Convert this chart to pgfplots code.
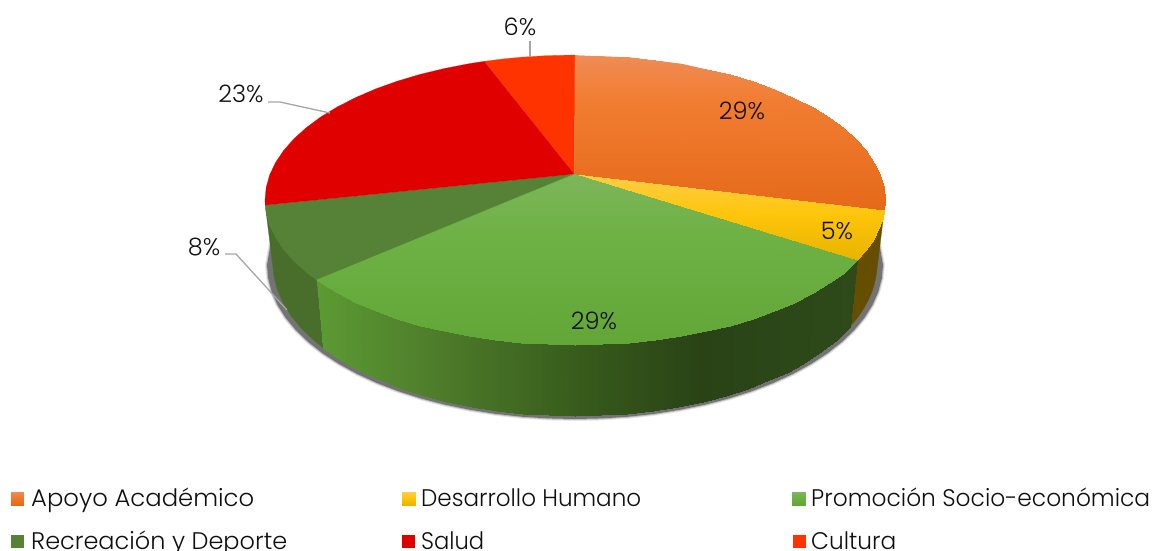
\documentclass[border=0pt]{standalone}
\usepackage{fontspec}
\setmainfont{Poppins Light}
\usepackage{pgfplots}
\pgfplotsset{compat=1.18}
\definecolor{txt}{RGB}{15,15,15}
\definecolor{lead}{RGB}{166,166,166}
\definecolor{dg}{RGB}{85,130,54}
\definecolor{red1}{RGB}{225,0,0}
\definecolor{cult}{RGB}{255,51,0}
\definecolor{dgs}{RGB}{73,110,44}
\definecolor{ys}{RGB}{102,78,0}
\definecolor{om}{RGB}{238,120,45}
\definecolor{ym}{RGB}{253,197,20}
\definecolor{gm}{RGB}{108,175,66}
\pgfplotsset{
 colormap={orr}{rgb255(55)=(240,140,85); rgb255(100)=(241,125,50); rgb255(210)=(229,105,25)},
 colormap={yel}{rgb255(174)=(255,205,70); rgb255(215)=(253,197,10); rgb255(260)=(232,180,0)},
 colormap={grn}{rgb255(174)=(125,182,92); rgb255(235)=(110,177,68); rgb255(345)=(98,166,56)},
 colormap={gside}{rgb255(316)=(92,155,51); rgb255(420)=(80,128,44); rgb255(575)=(56,92,28); rgb255(700)=(41,67,22); rgb255(857)=(46,74,26)},
}
\tikzset{
 lab/.style={font=\fontsize{24}{24}\selectfont, text=txt, inner sep=0pt},
 leg/.style={font=\fontsize{24}{24}\selectfont, text=txt, inner sep=0pt, anchor=base west},
}
\begin{document}
\begin{tikzpicture}
\useasboundingbox (0,0) rectangle (1154pt,550pt);
\clip (0,0) rectangle (1154pt,550pt);
\begin{axis}[at={(0,0)},anchor=south west,scale only axis,width=1154pt,height=550pt,
 xmin=0,xmax=1154,ymin=0,ymax=550,y dir=reverse,hide axis,clip=false,point meta rel=per plot]
% shadow
\addplot[draw=gray,line width=4pt,opacity=.18,fill=none] coordinates {(864.4,212.3)(878.3,238.3)(883,265)(881.8,278.4)(878.3,291.7)(872.5,304.9)(864.4,317.7)(854.1,330.1)(841.7,342)(827.3,353.3)(810.9,364)(792.8,373.9)(773,383)(751.7,391.2)(729,398.4)(705.2,404.6)(680.3,409.7)(654.7,413.8)(628.5,416.7)(601.9,418.4)(575,419)(548.1,418.4)(521.5,416.7)(495.3,413.8)(469.7,409.7)(444.8,404.6)(421,398.4)(398.3,391.2)(377,383)(357.2,373.9)(339.1,364)(322.7,353.3)(308.3,342)(295.9,330.1)(285.6,317.7)(277.5,304.9)(271.7,291.7)(268.2,278.4)(267,265)(271.7,238.3)(285.6,212.3)};
\addplot[draw=gray,line width=2pt,opacity=.4,fill=none] coordinates {(864.4,212.3)(878.3,238.3)(883,265)(881.8,278.4)(878.3,291.7)(872.5,304.9)(864.4,317.7)(854.1,330.1)(841.7,342)(827.3,353.3)(810.9,364)(792.8,373.9)(773,383)(751.7,391.2)(729,398.4)(705.2,404.6)(680.3,409.7)(654.7,413.8)(628.5,416.7)(601.9,418.4)(575,419)(548.1,418.4)(521.5,416.7)(495.3,413.8)(469.7,409.7)(444.8,404.6)(421,398.4)(398.3,391.2)(377,383)(357.2,373.9)(339.1,364)(322.7,353.3)(308.3,342)(295.9,330.1)(285.6,317.7)(277.5,304.9)(271.7,291.7)(268.2,278.4)(267,265)(271.7,238.3)(285.6,212.3)};
\addplot[draw=none,fill=black!55] coordinates {(864.4,212.3)(878.3,238.3)(883,265)(881.8,278.4)(878.3,291.7)(872.5,304.9)(864.4,317.7)(854.1,330.1)(841.7,342)(827.3,353.3)(810.9,364)(792.8,373.9)(773,383)(751.7,391.2)(729,398.4)(705.2,404.6)(680.3,409.7)(654.7,413.8)(628.5,416.7)(601.9,418.4)(575,419)(548.1,418.4)(521.5,416.7)(495.3,413.8)(469.7,409.7)(444.8,404.6)(421,398.4)(398.3,391.2)(377,383)(357.2,373.9)(339.1,364)(322.7,353.3)(308.3,342)(295.9,330.1)(285.6,317.7)(277.5,304.9)(271.7,291.7)(268.2,278.4)(267,265)(271.7,238.3)(285.6,212.3)} -- cycle;
% sides
\addplot[draw=ys,line width=.2pt,fill=ys] coordinates {(884.3,210.1)(882.7,217.7)(880.3,225.2)(876.4,233.8)(871.5,242.4)(865.4,250.8)(857.1,260.1)(849.8,327)(857.9,317.2)(863.8,308.4)(868.7,299.5)(872.4,290.4)(874.7,282.5)(876.3,274.6)} -- cycle;
\addplot[draw=dgs,line width=.2pt,fill=dgs] coordinates {(316.5,280)(306.5,272.5)(294,261.3)(283.7,249.6)(275.6,237.5)(269.7,225.2)(266.2,212.6)(265.2,205.1)(273.2,269.3)(274.1,277.3)(277.6,290.4)(283.3,303.3)(291.2,316)(301.3,328.2)(313.5,340)(323.2,347.9)} -- cycle;
\addplot[patch,patch type=rectangle,shader=interp,colormap name=gside,point meta=x] coordinates {
(857.1,260.1)(851.2,265.8)(844.1,333)(849.8,327)
(851.2,265.8)(843.5,272.5)(836.5,340)(844.1,333)
(843.5,272.5)(829,283.2)(822.4,351.2)(836.5,340)
(829,283.2)(812.5,293.2)(806.3,361.7)(822.4,351.2)
(812.5,293.2)(794.2,302.5)(788.5,371.5)(806.3,361.7)
(794.2,302.5)(774.3,311.1)(769.1,380.4)(788.5,371.5)
(774.3,311.1)(752.8,318.8)(748.2,388.5)(769.1,380.4)
(752.8,318.8)(730,325.6)(726,395.6)(748.2,388.5)
(730,325.6)(706,331.4)(702.6,401.8)(726,395.6)
(706,331.4)(681,336.3)(678.3,406.8)(702.6,401.8)
(681,336.3)(655.2,340.1)(653.2,410.8)(678.3,406.8)
(655.2,340.1)(628.8,342.8)(627.4,413.7)(653.2,410.8)
(628.8,342.8)(602,344.4)(601.3,415.4)(627.4,413.7)
(602,344.4)(575,345)(575,416)(601.3,415.4)
(575,345)(548,344.4)(548.7,415.4)(575,416)
(548,344.4)(521.2,342.8)(522.6,413.7)(548.7,415.4)
(521.2,342.8)(494.8,340.1)(496.8,410.8)(522.6,413.7)
(494.8,340.1)(469,336.3)(471.7,406.8)(496.8,410.8)
(469,336.3)(444,331.4)(447.4,401.8)(471.7,406.8)
(444,331.4)(420,325.6)(424,395.6)(447.4,401.8)
(420,325.6)(397.2,318.8)(401.8,388.5)(424,395.6)
(397.2,318.8)(375.7,311.1)(380.9,380.4)(401.8,388.5)
(375.7,311.1)(355.8,302.5)(361.5,371.5)(380.9,380.4)
(355.8,302.5)(337.5,293.2)(343.7,361.7)(361.5,371.5)
(337.5,293.2)(327.4,287.3)(333.8,355.5)(343.7,361.7)
(327.4,287.3)(316.5,280)(323.2,347.9)(333.8,355.5)
};
% top: flat slices
\addplot[draw=dg,line width=.2pt,fill=dg] coordinates {(574.5,174)(316.5,280)(306.5,272.5)(294,261.3)(283.7,249.6)(275.6,237.5)(269.7,225.2)(266.2,212.6)(265.2,205.1)} -- cycle;
\addplot[draw=red1,line width=.2pt,fill=red1] coordinates {(574.5,174)(265.2,205.1)(265,200)(266.2,187.4)(269.7,174.8)(275.6,162.5)(283.7,150.4)(294,138.7)(306.5,127.5)(321,116.8)(337.5,106.8)(355.8,97.5)(375.7,88.9)(397.2,81.2)(420,74.4)(444,68.6)(469,63.7)(484.4,61.3)} -- cycle;
\addplot[draw=cult,line width=.2pt,fill=cult] coordinates {(574.5,174)(484.4,61.3)(502.6,59)(521.2,57.2)(548,55.6)(575,55)} -- cycle;
% underlays of the shaded slices
\addplot[draw=om,line width=.4pt,fill=om] coordinates {(574.5,174)(575,55.6)(628.8,57.6)(681,64)(730,75)(774.3,89.5)(812.5,107.5)(843.5,128)(866.3,151)(880.3,175)(884.5,200)(884,209.8)} -- cycle;
\addplot[draw=ym,line width=.4pt,fill=ym] coordinates {(574.5,174)(884,210.3)(880,225)(871.2,242.2)(857,259.8)} -- cycle;
\addplot[draw=gm,line width=.4pt,fill=gm] coordinates {(574.5,174)(857,260.2)(812.5,292.8)(730,325.2)(628.8,342.4)(575,344.6)(521.2,342.4)(420,325.2)(337.5,292.8)(316.8,280)} -- cycle;
% top: shaded slices
\addplot[patch,shader=interp,colormap name=orr,point meta=y] coordinates {
(574.5,174)(575,55)(602,55.6)
(574.5,174)(602,55.6)(628.8,57.2)
(574.5,174)(628.8,57.2)(655.2,59.9)
(574.5,174)(655.2,59.9)(681,63.7)
(574.5,174)(681,63.7)(706,68.6)
(574.5,174)(706,68.6)(730,74.4)
(574.5,174)(730,74.4)(752.8,81.2)
(574.5,174)(752.8,81.2)(774.3,88.9)
(574.5,174)(774.3,88.9)(794.2,97.5)
(574.5,174)(794.2,97.5)(812.5,106.8)
(574.5,174)(812.5,106.8)(829,116.8)
(574.5,174)(829,116.8)(843.5,127.5)
(574.5,174)(843.5,127.5)(856,138.7)
(574.5,174)(856,138.7)(866.3,150.4)
(574.5,174)(866.3,150.4)(874.4,162.5)
(574.5,174)(874.4,162.5)(880.3,174.8)
(574.5,174)(880.3,174.8)(883.8,187.4)
(574.5,174)(883.8,187.4)(885,200)
(574.5,174)(885,200)(884.3,210.1)
};
\addplot[patch,shader=interp,colormap name=yel,point meta=y] coordinates {
(574.5,174)(884.3,210.1)(882.7,217.7)
(574.5,174)(882.7,217.7)(880.3,225.2)
(574.5,174)(880.3,225.2)(876.4,233.8)
(574.5,174)(876.4,233.8)(871.5,242.4)
(574.5,174)(871.5,242.4)(865.4,250.8)
(574.5,174)(865.4,250.8)(857.1,260.1)
};
\addplot[patch,shader=interp,colormap name=grn,point meta=y] coordinates {
(574.5,174)(857.1,260.1)(851.2,265.8)
(574.5,174)(851.2,265.8)(843.5,272.5)
(574.5,174)(843.5,272.5)(829,283.2)
(574.5,174)(829,283.2)(812.5,293.2)
(574.5,174)(812.5,293.2)(794.2,302.5)
(574.5,174)(794.2,302.5)(774.3,311.1)
(574.5,174)(774.3,311.1)(752.8,318.8)
(574.5,174)(752.8,318.8)(730,325.6)
(574.5,174)(730,325.6)(706,331.4)
(574.5,174)(706,331.4)(681,336.3)
(574.5,174)(681,336.3)(655.2,340.1)
(574.5,174)(655.2,340.1)(628.8,342.8)
(574.5,174)(628.8,342.8)(602,344.4)
(574.5,174)(602,344.4)(575,345)
(574.5,174)(575,345)(548,344.4)
(574.5,174)(548,344.4)(521.2,342.8)
(574.5,174)(521.2,342.8)(494.8,340.1)
(574.5,174)(494.8,340.1)(469,336.3)
(574.5,174)(469,336.3)(444,331.4)
(574.5,174)(444,331.4)(420,325.6)
(574.5,174)(420,325.6)(397.2,318.8)
(574.5,174)(397.2,318.8)(375.7,311.1)
(574.5,174)(375.7,311.1)(355.8,302.5)
(574.5,174)(355.8,302.5)(337.5,293.2)
(574.5,174)(337.5,293.2)(327.4,287.3)
(574.5,174)(327.4,287.3)(316.5,280)
};
% leader lines
\addplot[draw=lead,line width=1.3pt] coordinates {(530,41)(530,57)};
\addplot[draw=lead,line width=1.3pt] coordinates {(268,102)(280,102)(330,113)};
\addplot[draw=lead,line width=1.3pt] coordinates {(225,254)(236,254)(287,310)};
% legend squares
\addplot[patch,patch type=rectangle,shader=interp,colormap name=orr,point meta=y] coordinates {(11,492)(24,492)(24,505)(11,505)};
\addplot[patch,patch type=rectangle,shader=interp,colormap name=yel,point meta=y] coordinates {(402,492)(415,492)(415,505)(402,505)};
\addplot[patch,patch type=rectangle,shader=interp,colormap name=grn,point meta=y] coordinates {(792,492)(805,492)(805,505)(792,505)};
\addplot[draw=none,fill=dg] coordinates {(11,535)(24,535)(24,548)(11,548)} -- cycle;
\addplot[draw=none,fill=red1] coordinates {(402,535)(415,535)(415,548)(402,548)} -- cycle;
\addplot[draw=none,fill=cult] coordinates {(793,535)(806,535)(806,548)(793,548)} -- cycle;
% labels
\node[lab] at (axis cs:520,27) {6\%};
\node[lab] at (axis cs:241,94) {23\%};
\node[lab] at (axis cs:204,247) {8\%};
\node[lab] at (axis cs:742,111) {29\%};
\node[lab] at (axis cs:837,231) {5\%};
\node[lab] at (axis cs:594,321) {29\%};
\node[leg] at (axis cs:31,506) {\resizebox{223pt}{\height}{Apoyo Académico}};
\node[leg] at (axis cs:421,506) {\resizebox{220pt}{\height}{Desarrollo Humano}};
\node[leg] at (axis cs:811,506) {\resizebox{339pt}{\height}{Promoción Socio-económica}};
\node[leg] at (axis cs:31,549) {\resizebox{256pt}{\height}{Recreación y Deporte}};
\node[leg] at (axis cs:421,549) {\resizebox{63pt}{\height}{Salud}};
\node[leg] at (axis cs:811,549) {\resizebox{85pt}{\height}{Cultura}};
\end{axis}
\end{tikzpicture}
\end{document}
